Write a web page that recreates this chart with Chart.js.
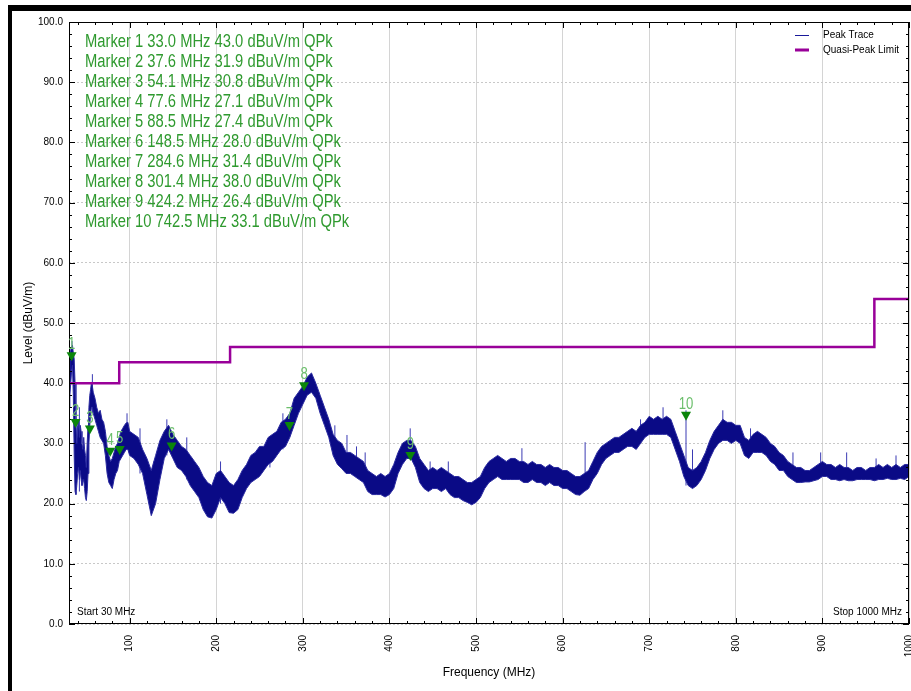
<!DOCTYPE html>
<html>
<head>
<meta charset="utf-8">
<script src="https://cdn.jsdelivr.net/npm/chart.js@4.4.0/dist/chart.umd.min.js"></script>
<style>
html, body { margin: 0; padding: 0; background: #fff; }
#wrap { position: relative; width: 911px; height: 691px; }
</style>
</head>
<body>
<div id="wrap"><canvas id="emiChart" width="911" height="691"></canvas></div>
<script>
/* =========================================
   Data
   ========================================= */
var traceFreq = [30, 31, 32, 33, 34, 35, 36, 37, 38, 39, 40, 41, 42, 43, 44, 45, 46, 47, 48, 49,
    50, 51, 52, 53, 54, 55, 56, 57, 58, 60, 62, 64, 66, 68, 70, 72, 74, 76, 78, 80,
    82, 84, 86, 88, 90, 92, 94, 96, 98, 100, 105, 110, 115, 120, 125, 130, 135, 140, 145, 150,
    155, 160, 165, 170, 175, 180, 185, 190, 195, 200, 205, 210, 215, 220, 225, 230, 235, 240, 245, 250,
    255, 260, 265, 270, 275, 280, 285, 290, 295, 300, 305, 310, 315, 320, 325, 330, 335, 340, 345, 350,
    355, 360, 365, 370, 375, 380, 385, 390, 395, 400, 405, 410, 415, 420, 425, 430, 435, 440, 445, 450,
    455, 460, 465, 470, 475, 480, 485, 490, 495, 500, 505, 510, 515, 520, 525, 530, 535, 540, 545, 550,
    555, 560, 565, 570, 575, 580, 585, 590, 595, 600, 605, 610, 615, 620, 625, 630, 635, 640, 645, 650,
    655, 660, 665, 670, 675, 680, 685, 690, 695, 700, 705, 710, 715, 720, 725, 730, 735, 740, 745, 750,
    755, 760, 765, 770, 775, 780, 785, 790, 795, 800, 805, 810, 815, 820, 825, 830, 835, 840, 845, 850,
    855, 860, 865, 870, 875, 880, 885, 890, 895, 900, 905, 910, 915, 920, 925, 930, 935, 940, 945, 950,
    955, 960, 965, 970, 975, 980, 985, 990, 995, 1000];
var traceHigh = [42, 44, 45.5, 46, 46.3, 45, 44, 40, 34, 30, 33, 34, 31, 33, 32, 30, 29, 31, 29, 28,
    26, 30, 33, 36, 38, 39, 40.2, 39.5, 38.5, 37.5, 36, 35, 35.5, 34, 33.5, 32, 29.5, 28, 27, 27.5,
    28.5, 29.5, 30, 31, 32, 32.5, 33, 33.4, 33.5, 32, 31.5, 31, 29, 27.5, 25.5, 28, 30.5, 32, 33, 31.5,
    30.5, 29.5, 29, 28, 27, 26, 24.5, 23.5, 23, 25, 25.5, 24.5, 23.5, 23, 24, 25.5, 26.5, 28, 28.5, 29.5,
    29.5, 31, 31.5, 32, 33.5, 34, 35, 37.5, 38.5, 39.5, 41, 41.7, 40, 38, 36, 34, 31.5, 30.5, 30, 28.5,
    28.5, 28, 27.5, 27, 25.5, 25, 24.5, 25, 24.5, 25, 26.5, 28.5, 30, 30.5, 30.5, 29.5, 27.5, 26.5, 25.5, 26,
    25.5, 26, 25.5, 25, 24.5, 24.5, 24, 23.5, 23.5, 24, 24.5, 26, 27, 27.5, 28, 27.5, 27, 27.5, 27.5, 27,
    27, 26.5, 27, 26.5, 26.5, 26, 26.5, 26, 26, 25.5, 25.5, 25, 24.5, 24.5, 25, 25.5, 27, 28.5, 29.5, 30,
    30.5, 31, 31, 31.5, 32, 32.5, 32, 33, 33.5, 34.5, 34, 34.5, 34, 34.5, 34, 32, 30, 28, 26, 25.5,
    26, 27, 28.5, 30.5, 32, 33, 34, 33.5, 33.5, 33, 33, 31, 30.5, 31.5, 32, 31.5, 31, 30, 29.5, 28.5,
    28, 27, 26.5, 26, 26, 25.5, 25.5, 26, 26.5, 27, 26.5, 26.5, 26, 26.5, 26, 26, 25.5, 26, 26, 25.5,
    26, 26, 26.5, 26, 26.5, 26, 26.5, 26, 26.5, 26.5];
var traceLow = [36, 38, 40, 42, 43, 38, 28, 22, 21.5, 23, 25, 26, 24, 25.5, 24, 23, 23.5, 24, 22.5, 21,
    20.5, 22, 25, 30, 33, 35, 36, 36, 35, 34, 33, 32, 31, 30.5, 30, 28, 25, 23.5, 23, 22.5,
    24, 25, 25.5, 27, 27.5, 28, 28.5, 29, 29, 28, 27.5, 26.5, 25, 21.5, 18, 20, 24, 27.5, 29, 27.5,
    26, 25.5, 24.5, 23, 22, 21, 19, 17.8, 17.6, 19, 21, 20, 18.5, 18.4, 19, 21, 22.5, 23.5, 24, 24.5,
    25.5, 26.5, 27, 28, 29, 29.5, 31, 33, 35, 36.5, 38, 38.5, 37.5, 35, 33, 31, 28, 26.5, 25.8, 25,
    25, 24.5, 24, 23.5, 22, 21.5, 21.5, 21.5, 21.1, 21.5, 22.5, 25, 26.5, 27.5, 27.5, 26, 23.5, 22.5, 22, 22.5,
    22.5, 22, 22.5, 21.5, 21, 21, 20.5, 20.2, 19.8, 20.2, 21, 22.5, 23.5, 24, 24.5, 24, 24, 24, 24, 24,
    23.5, 23.5, 24, 23.5, 23.5, 23, 23.5, 23, 23, 22.5, 22.5, 22, 21.5, 21.4, 22, 22.5, 24, 25, 26.5, 27.5,
    28, 28.5, 28.5, 29, 29.5, 29.5, 29, 30, 31, 31.5, 31.5, 31.5, 31.5, 31.5, 31, 29, 27, 24.5, 23, 22.5,
    23, 24, 25.5, 27.5, 29, 30, 30.5, 30.5, 30, 30.5, 30, 28, 27.5, 28.5, 28.5, 28.5, 28, 27, 26.5, 25.5,
    25.5, 24.5, 24, 23.5, 23.5, 23.6, 23.6, 23.8, 24, 24.5, 24.5, 24, 24, 23.8, 24, 23.8, 23.8, 24, 24, 24,
    24, 23.8, 24, 24, 24.2, 24, 24, 24.2, 24, 24.5];

// isolated narrow spikes of the peak trace
var spikeFreq = [33.5, 42, 57, 97, 112, 128, 143, 166, 205, 262, 277, 337, 351, 362, 372, 424, 447,
    468, 553, 626, 690, 716, 742.5, 750, 785, 817, 866, 898, 928, 962, 985];
var spikeLow = [43, 22, 35, 29, 25, 20, 28, 24, 20, 26, 29, 28, 27, 24.5, 23.5, 28, 22.5,
    22, 24, 23, 30, 31.5, 23, 23.5, 30.5, 28, 24, 24.5, 24.5, 24, 24];
var spikeHigh = [47, 36, 41.5, 35, 32.5, 27, 34, 31, 27, 31, 35, 33, 31.4, 29.5, 28.5, 32.5, 27,
    27, 29.2, 30.2, 34, 36, 35.5, 29, 35.5, 32.5, 28.5, 28.5, 28.5, 27.5, 28];

// quasi-peak limit steps
var limitFreq = [30, 88, 216, 960, 1000];
var limitLevel = [40, 43.5, 46, 54, 54];

// markers
var markerFreq = [33.0, 37.6, 54.1, 77.6, 88.5, 148.5, 284.6, 301.4, 424.2, 742.5];
var markerLevel = [43.0, 31.9, 30.8, 27.1, 27.4, 28.0, 31.4, 38.0, 26.4, 33.1];

var xTickValues = [100, 200, 300, 400, 500, 600, 700, 800, 900, 1000];
var yTickValues = [0, 10, 20, 30, 40, 50, 60, 70, 80, 90, 100];

var sansFont = '"Liberation Sans", Arial, sans-serif';

/* =========================================
   Building the datasets
   ========================================= */
var upperPts = traceFreq.map(function(f, i) { return { x: f, y: traceHigh[i] }; });
var lowerPts = traceFreq.map(function(f, i) { return { x: f, y: traceLow[i] }; });
var spikePts = [];
spikeFreq.forEach(function(f, i) {
    spikePts.push({ x: f, y: spikeLow[i] }, { x: f, y: spikeHigh[i] }, { x: f, y: null });
});
var limitPts = limitFreq.map(function(f, i) { return { x: f, y: limitLevel[i] }; });

// narrow text (the original uses a condensed face)
function narrowText(ctx, txt, x, y, size, align) {
    ctx.save();
    ctx.font = size + 'px ' + sansFont;
    ctx.textAlign = align || 'left';
    ctx.translate(x, y);
    ctx.scale(0.82, 1);
    ctx.fillText(txt, 0, 0);
    ctx.restore();
}

// frame, inner ticks, markers, legend and notes
var emiDecor = {
    id: 'emiDecor',
    beforeDraw: function(chart) {
        var ctx = chart.ctx;
        ctx.save();
        ctx.fillStyle = '#fff';
        ctx.fillRect(0, 0, chart.width, chart.height);
        ctx.fillStyle = '#000';
        ctx.fillRect(8, 5, chart.width - 8, 6);
        ctx.fillRect(8, 5, 4, chart.height - 5);
        ctx.restore();
    },
    afterDatasetsDraw: function(chart) {
        var ctx = chart.ctx, a = chart.chartArea;
        var xs = chart.scales.x, ys = chart.scales.y;
        ctx.save();

        // box + inner ticks
        ctx.strokeStyle = '#000';
        ctx.lineWidth = 1;
        ctx.strokeRect(a.left + 0.5, a.top + 0.5, a.right - a.left - 1, a.bottom - a.top - 1);
        ctx.beginPath();
        for (var v = 0; v <= 100; v += 2) {
            var py = Math.round(ys.getPixelForValue(v)) + 0.5;
            var len = v % 10 === 0 ? 6 : 3;
            ctx.moveTo(a.left, py); ctx.lineTo(a.left + len, py);
            ctx.moveTo(a.right, py); ctx.lineTo(a.right - len, py);
        }
        for (var f = 40; f <= 1000; f += 20) {
            var px = Math.round(xs.getPixelForValue(f)) + 0.5;
            var len2 = f % 100 === 0 ? 6 : 3;
            ctx.moveTo(px, a.bottom); ctx.lineTo(px, a.bottom - len2);
            ctx.moveTo(px, a.top); ctx.lineTo(px, a.top + len2);
        }
        ctx.stroke();

        // marker triangles and numbers
        markerFreq.forEach(function(mf, i) {
            var mx = xs.getPixelForValue(mf), my = ys.getPixelForValue(markerLevel[i]);
            ctx.fillStyle = '#0b850b';
            ctx.beginPath();
            ctx.moveTo(mx - 5, my - 13);
            ctx.lineTo(mx + 5, my - 13);
            ctx.lineTo(mx, my - 4);
            ctx.closePath();
            ctx.fill();
            ctx.fillStyle = '#6cbf6c';
            narrowText(ctx, String(i + 1), mx, my - 16, 16, 'center');
        });

        // marker list
        ctx.fillStyle = '#2f9a2f';
        markerFreq.forEach(function(mf, i) {
            var line = 'Marker ' + (i + 1) + ' ' + mf.toFixed(1) + ' MHz ' +
                markerLevel[i].toFixed(1) + ' dBuV/m QPk';
            narrowText(ctx, line, 85, 47 + i * 20, 18, 'left');
        });

        // legend
        ctx.lineWidth = 1;
        ctx.strokeStyle = '#1a1a9a';
        ctx.beginPath(); ctx.moveTo(795, 35.5); ctx.lineTo(809, 35.5); ctx.stroke();
        ctx.lineWidth = 3;
        ctx.strokeStyle = '#990099';
        ctx.beginPath(); ctx.moveTo(795, 50); ctx.lineTo(809, 50); ctx.stroke();
        ctx.fillStyle = '#000';
        ctx.font = '10px ' + sansFont;
        ctx.textAlign = 'left';
        ctx.textBaseline = 'middle';
        ctx.fillText('Peak Trace', 823, 35);
        ctx.fillText('Quasi-Peak Limit', 823, 50);

        // start / stop notes
        ctx.textBaseline = 'alphabetic';
        ctx.fillText('Start 30 MHz', 77, 615);
        ctx.textAlign = 'right';
        ctx.fillText('Stop 1000 MHz', 902, 615);
        ctx.restore();
    }
};

/* =========================================
   Chart
   ========================================= */
var emiCtx = document.getElementById('emiChart').getContext('2d');
var emiChart = new Chart(emiCtx, {
    type: 'line',
    data: {
        datasets: [{
            label: 'Quasi-Peak Limit',
            data: limitPts,
            borderColor: '#990099',
            borderWidth: 2.5,
            stepped: 'before',
            fill: false
        }, {
            label: 'Peak Trace',
            data: upperPts,
            borderColor: '#2a2aa0',
            borderWidth: 1,
            fill: false
        }, {
            label: 'Peak Trace low',
            data: lowerPts,
            borderColor: '#2a2aa0',
            borderWidth: 1,
            backgroundColor: '#0a0a86',
            fill: '-1'
        }, {
            label: 'Peak Trace spikes',
            data: spikePts,
            borderColor: '#3b3bb4',
            borderWidth: 1,
            fill: false
        }]
    },
    options: {
        responsive: false,
        animation: false,
        layout: { padding: { left: 12, top: 22, right: 2, bottom: 0 } },
        elements: { point: { radius: 0 }, line: { tension: 0 } },
        plugins: {
            legend: { display: false },
            tooltip: { enabled: false }
        },
        scales: {
            x: {
                type: 'linear',
                min: 30,
                max: 1000,
                afterBuildTicks: function(scale) {
                    scale.ticks = xTickValues.map(function(v) { return { value: v }; });
                },
                afterFit: function(scale) {
                    scale.height = 67;
                    scale.paddingLeft = 0;
                    scale.paddingRight = 0;
                },
                ticks: {
                    autoSkip: false,
                    minRotation: 90,
                    maxRotation: 90,
                    padding: 11,
                    color: '#000',
                    font: { family: sansFont, size: 10 },
                    callback: function(v) { return String(v); }
                },
                grid: { color: '#d4d4d4', drawTicks: false },
                border: { display: false },
                title: {
                    display: true,
                    text: 'Frequency (MHz)',
                    color: '#000',
                    font: { family: sansFont, size: 12 },
                    padding: { top: 4, bottom: 11 }
                }
            },
            y: {
                min: 0,
                max: 100,
                afterBuildTicks: function(scale) {
                    scale.ticks = yTickValues.map(function(v) { return { value: v }; });
                },
                afterFit: function(scale) {
                    scale.width = 57;
                    scale.paddingTop = 0;
                    scale.paddingBottom = 0;
                },
                ticks: {
                    padding: 6,
                    color: '#000',
                    font: { family: sansFont, size: 10 },
                    callback: function(v) { return v.toFixed(1); }
                },
                grid: { color: '#c8c8c8', drawTicks: false },
                border: { display: false, dash: [2, 2] },
                title: {
                    display: true,
                    text: 'Level (dBuV/m)',
                    color: '#000',
                    font: { family: sansFont, size: 12 },
                    padding: { top: 9, bottom: 0 }
                }
            }
        }
    },
    plugins: [emiDecor]
});
</script>
</body>
</html>
